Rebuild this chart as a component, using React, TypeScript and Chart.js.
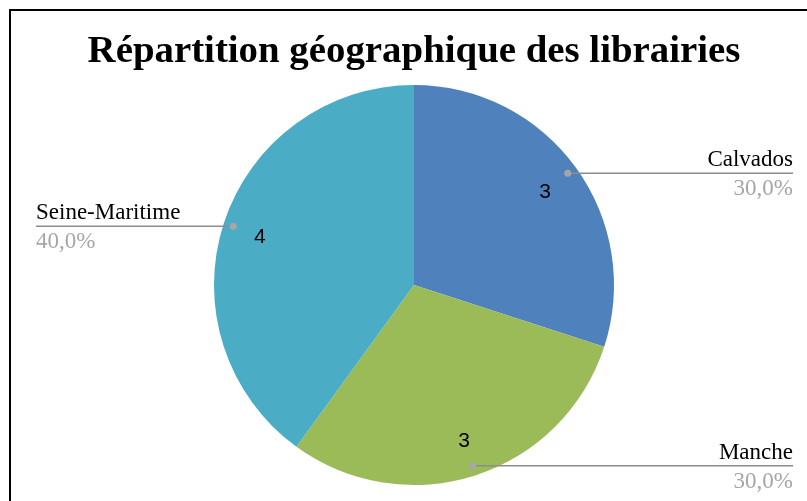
import React, { useEffect, useRef } from "react";
import { Chart, registerables } from "chart.js";

Chart.register(...registerables);

const titleText = "Répartition géographique des librairies";
const categories = ["Calvados", "Manche", "Seine-Maritime"];
const values = [3, 3, 4];
const percentLabels = ["30,0%", "30,0%", "40,0%"];
const colors = ["#4F81BD", "#9BBB59", "#4BACC6"];

const SERIF = "'Liberation Serif', 'DejaVu Serif', serif";
const SANS = "'Liberation Sans', Arial, sans-serif";

const titlePlugin = {
  id: "bigTitle",
  afterDraw(chart: any) {
    const ctx = chart.ctx;
    ctx.save();
    let size = 34;
    ctx.font = `bold ${size}px ${SERIF}`;
    const w = ctx.measureText(titleText).width;
    size = Math.min(40, (size * 653) / w);
    ctx.font = `bold ${size}px ${SERIF}`;
    ctx.fillStyle = "#000";
    ctx.textAlign = "center";
    ctx.textBaseline = "alphabetic";
    const cx = (chart.chartArea.left + chart.chartArea.right) / 2;
    ctx.fillText(titleText, cx, 62);
    ctx.restore();
  },
};

const labelPlugin = {
  id: "pieLabels",
  afterDatasetsDraw(chart: any) {
    const ctx = chart.ctx;
    const meta = chart.getDatasetMeta(0);
    const W = chart.width;
    meta.data.forEach((arc: any, i: number) => {
      const p = arc.getProps(["x", "y", "startAngle", "endAngle", "outerRadius"], true);
      const mid = (p.startAngle + p.endAngle) / 2;
      const r = p.outerRadius;
      const cos = Math.cos(mid);
      const sin = Math.sin(mid);
      ctx.save();
      ctx.fillStyle = "#000";
      ctx.font = `21px ${SANS}`;
      ctx.textAlign = "center";
      ctx.textBaseline = "middle";
      ctx.fillText(String(values[i]), p.x + cos * r * 0.81, p.y + sin * r * 0.81 + 2);
      const dx = p.x + cos * r * 0.95;
      const dy = p.y + sin * r * 0.95;
      const right = cos >= 0;
      const endX = right ? W - 14 : 36;
      ctx.strokeStyle = "#8C8C8C";
      ctx.lineWidth = 1.5;
      ctx.beginPath();
      ctx.moveTo(dx, dy);
      ctx.lineTo(endX, dy);
      ctx.stroke();
      ctx.fillStyle = "#A6A6A6";
      ctx.beginPath();
      ctx.arc(dx, dy, 3.5, 0, Math.PI * 2);
      ctx.fill();
      ctx.font = `23px ${SERIF}`;
      ctx.textAlign = right ? "right" : "left";
      ctx.textBaseline = "alphabetic";
      ctx.fillStyle = "#000";
      ctx.fillText(categories[i], endX, dy - 7);
      ctx.fillStyle = "#A6A6A6";
      ctx.fillText(percentLabels[i], endX, dy + 22);
      ctx.restore();
    });
  },
};

export default function App() {
  const ref = useRef<HTMLCanvasElement | null>(null);
  useEffect(() => {
    if (!ref.current) return;
    const chart = new Chart(ref.current, {
      type: "pie",
      data: {
        labels: categories,
        datasets: [
          {
            data: values,
            backgroundColor: colors,
            borderWidth: 0,
            hoverOffset: 0,
          },
        ],
      },
      options: {
        responsive: false,
        animation: false,
        layout: { padding: { left: 214, right: 193, top: 85, bottom: 16 } },
        plugins: {
          legend: { display: false },
          tooltip: { enabled: false },
          title: { display: false },
        },
      },
      plugins: [labelPlugin, titlePlugin],
    });
    return () => chart.destroy();
  }, []);
  return (
    <div>
      <canvas
        ref={ref}
        width={807}
        height={501}
        style={{ position: "fixed", left: 0, top: 0, width: 807, height: 501 }}
      />
      <div
        style={{
          position: "fixed",
          left: 9,
          top: 9,
          width: 820,
          height: 520,
          borderTop: "2.5px solid #000",
          borderLeft: "2.5px solid #000",
          pointerEvents: "none",
        }}
      />
    </div>
  );
}
